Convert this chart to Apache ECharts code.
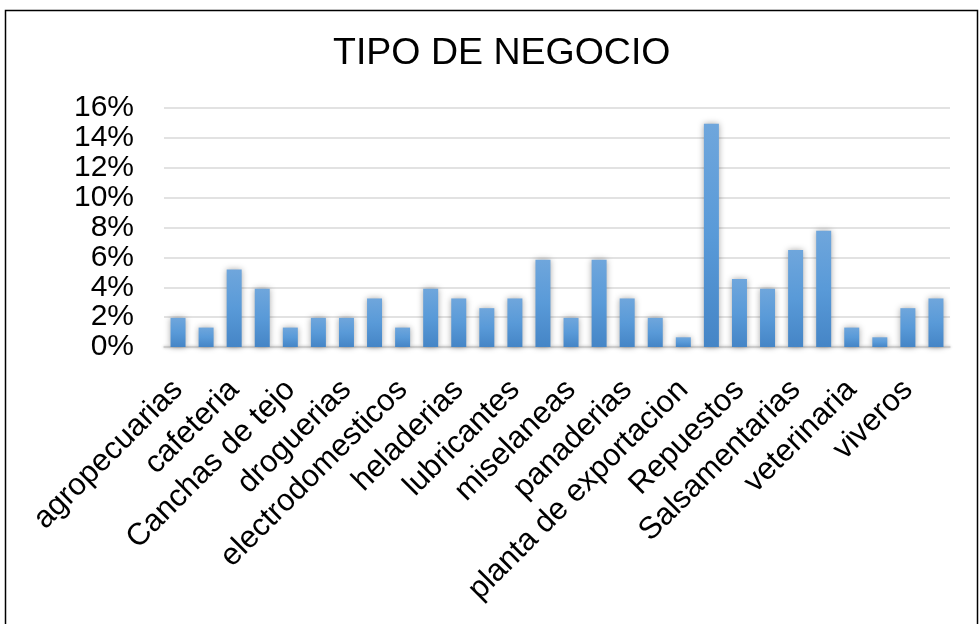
<!DOCTYPE html>
<html>
<head>
<meta charset="utf-8">
<script src="https://cdn.jsdelivr.net/npm/echarts@6/dist/echarts.min.js"></script>
<style>
html,body{margin:0;padding:0;background:#fff;}
#main{width:979px;height:624px;}
</style>
</head>
<body>
<div id="main"></div>
<script>
const categories = [
  'agropecuarias','almacenes','cafeteria','calzado','Canchas de tejo','comidas rapidas',
  'droguerias','ebanisterias','electrodomesticos','ferreterias','heladerias','hoteles',
  'lubricantes','minimercados','miselaneas','muebles','panaderias','papelerias',
  'planta de exportacion','Relojerias','Repuestos','restaurantes','Salsamentarias','talleres',
  'veterinaria','vidrierias','viveros','zapaterias'
];
const percentages = [
  1.95, 1.30, 5.19, 3.90, 1.30, 1.95,
  1.95, 3.25, 1.30, 3.90, 3.25, 2.60,
  3.25, 5.84, 1.95, 5.84, 3.25, 1.95,
  0.65, 14.94, 4.55, 3.90, 6.49, 7.79,
  1.30, 0.65, 2.60, 3.25
];
const yTicks = { min: 0, max: 16, step: 2 };
const chartTitle = 'TIPO DE NEGOCIO';

const chart = echarts.init(document.getElementById('main'), null, {renderer:'canvas'});
const font = '"Liberation Sans", Arial, sans-serif';
chart.setOption({
  animation: false,
  backgroundColor: '#ffffff',
  title: {
    text: chartTitle,
    left: 328,
    top: 30,
    textStyle: { fontFamily: font, fontSize: 37.5, fontWeight: 'normal', color: '#000' }
  },
  graphic: [{
    type: 'rect',
    shape: { x: 5.5, y: 10.5, width: 972, height: 700 },
    style: { fill: 'none', stroke: '#000', lineWidth: 1.5 },
    silent: true
  }],
  grid: { left: 164, right: 29, top: 108, bottom: 277 },
  xAxis: {
    type: 'category',
    data: categories,
    axisTick: { show: false },
    axisLine: { lineStyle: { color: '#d0d0d0', width: 1.5, shadowColor: 'rgba(0,0,0,0.3)', shadowBlur: 3 } },
    axisLabel: {
      interval: 1,
      rotate: 45,
      margin: 38,
      fontFamily: font,
      fontSize: 31,
      color: '#000'
    }
  },
  yAxis: {
    type: 'value',
    min: yTicks.min,
    max: yTicks.max,
    interval: yTicks.step,
    axisLine: { show: false },
    axisTick: { show: false },
    axisLabel: {
      formatter: '{value}%',
      margin: 30,
      fontFamily: font,
      fontSize: 30,
      color: '#000'
    },
    splitLine: { lineStyle: { color: '#d9d9d9', width: 1.5 } }
  },
  series: [{
    type: 'bar',
    data: percentages,
    barWidth: 15,
    itemStyle: {
      color: new echarts.graphic.LinearGradient(0, 0, 0, 1, [
        { offset: 0, color: '#6fa6dc' },
        { offset: 0.5, color: '#599ad8' },
        { offset: 1, color: '#4585c6' }
      ]),
      shadowColor: 'rgba(0,0,0,0.35)',
      shadowBlur: 6
    }
  }]
});
</script>
</body>
</html>
